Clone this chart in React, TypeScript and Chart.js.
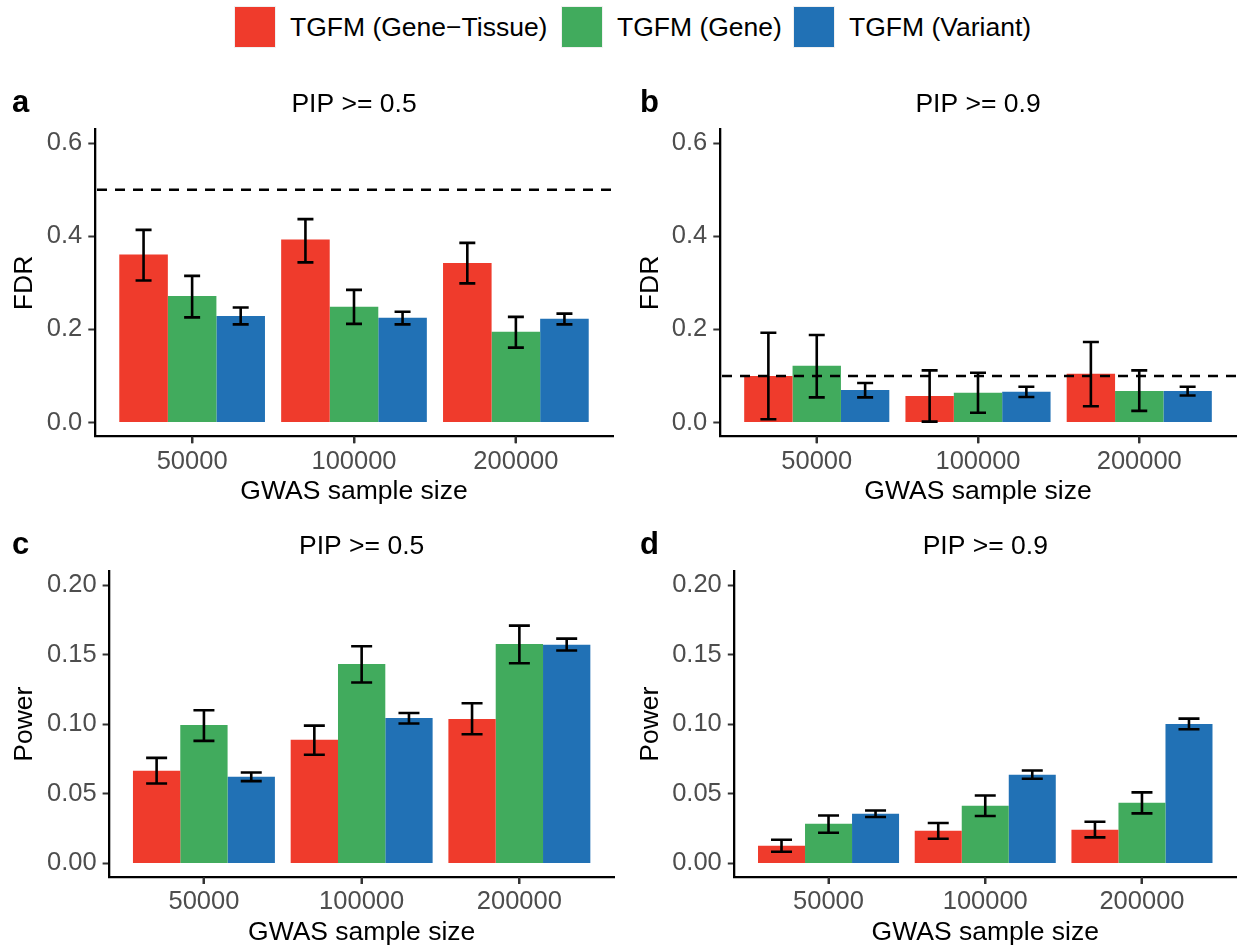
import React, { useEffect, useRef } from 'react';
import { Chart, registerables } from 'chart.js';

Chart.register(...registerables);

const FONT = "'Liberation Sans', Arial, Helvetica, sans-serif";

// ---------- shared categories / series ----------
const categories = ['50000', '100000', '200000'];
const xIndex = [1, 2, 3];
const seriesNames = ['TGFM (Gene\u2212Tissue)', 'TGFM (Gene)', 'TGFM (Variant)'];
const seriesColors = ['#EF3B2C', '#41AB5D', '#2171B5'];

// ---------- panel a: FDR, PIP >= 0.5 ----------
const fdr05GeneTissue = [0.361, 0.393, 0.343];
const fdr05GeneTissueLo = [0.305, 0.344, 0.299];
const fdr05GeneTissueHi = [0.414, 0.437, 0.386];
const fdr05Gene = [0.272, 0.249, 0.195];
const fdr05GeneLo = [0.226, 0.212, 0.161];
const fdr05GeneHi = [0.315, 0.285, 0.227];
const fdr05Variant = [0.229, 0.225, 0.223];
const fdr05VariantLo = [0.211, 0.211, 0.211];
const fdr05VariantHi = [0.247, 0.238, 0.234];

// ---------- panel b: FDR, PIP >= 0.9 ----------
const fdr09GeneTissue = [0.100, 0.057, 0.105];
const fdr09GeneTissueLo = [0.007, 0.002, 0.035];
const fdr09GeneTissueHi = [0.193, 0.112, 0.173];
const fdr09Gene = [0.122, 0.064, 0.068];
const fdr09GeneLo = [0.054, 0.021, 0.025];
const fdr09GeneHi = [0.188, 0.107, 0.112];
const fdr09Variant = [0.070, 0.066, 0.068];
const fdr09VariantLo = [0.054, 0.055, 0.058];
const fdr09VariantHi = [0.085, 0.077, 0.077];

// ---------- panel c: Power, PIP >= 0.5 ----------
const pow05GeneTissue = [0.0665, 0.0888, 0.1038];
const pow05GeneTissueLo = [0.0574, 0.078, 0.0928];
const pow05GeneTissueHi = [0.0758, 0.099, 0.115];
const pow05Gene = [0.0995, 0.1433, 0.1577];
const pow05GeneLo = [0.088, 0.130, 0.1438];
const pow05GeneHi = [0.110, 0.156, 0.1708];
const pow05Variant = [0.0622, 0.1045, 0.157];
const pow05VariantLo = [0.0591, 0.1005, 0.1529];
const pow05VariantHi = [0.0653, 0.108, 0.1615];

// ---------- panel d: Power, PIP >= 0.9 ----------
const pow09GeneTissue = [0.0127, 0.0234, 0.0242];
const pow09GeneTissueLo = [0.0084, 0.0177, 0.0187];
const pow09GeneTissueHi = [0.017, 0.029, 0.0299];
const pow09Gene = [0.0285, 0.0414, 0.0435];
const pow09GeneLo = [0.022, 0.034, 0.0359];
const pow09GeneHi = [0.0344, 0.0488, 0.051];
const pow09Variant = [0.0356, 0.0636, 0.1002];
const pow09VariantLo = [0.0333, 0.0608, 0.0964];
const pow09VariantHi = [0.038, 0.0667, 0.104];

// ---------- axis ticks / thresholds ----------
const fdrTicks = [0, 0.2, 0.4, 0.6];
const powerTicks = [0, 0.05, 0.1, 0.15, 0.2];
const fdrThreshold05 = 0.5;
const fdrThreshold09 = 0.1;

type PanelCfg = {
  left: number; top: number; width: number; height: number;
  axisLeft: number; axisRight: number; plotTop: number; plotBottom: number;
  yTitleX: number; letterX: number;
  yMin: number; yMax: number; yTicks: number[]; decimals: number;
  yTitle: string; title: string; letter: string;
  values: number[][]; lo: number[][]; hi: number[][];
  hline: number | null; cap: number;
};

const panels: PanelCfg[] = [
  {
    left: 0, top: 60, width: 620, height: 450,
    axisLeft: 95, axisRight: 613, plotTop: 129.3, plotBottom: 436.5,
    yTitleX: 25, letterX: 12,
    yMin: -0.03, yMax: 0.63, yTicks: fdrTicks, decimals: 1,
    yTitle: 'FDR', title: 'PIP >= 0.5', letter: 'a',
    values: [fdr05GeneTissue, fdr05Gene, fdr05Variant],
    lo: [fdr05GeneTissueLo, fdr05GeneLo, fdr05VariantLo],
    hi: [fdr05GeneTissueHi, fdr05GeneHi, fdr05VariantHi],
    hline: fdrThreshold05, cap: 16,
  },
  {
    left: 620, top: 60, width: 619, height: 450,
    axisLeft: 720, axisRight: 1236, plotTop: 129.3, plotBottom: 436.5,
    yTitleX: 651, letterX: 640,
    yMin: -0.03, yMax: 0.63, yTicks: fdrTicks, decimals: 1,
    yTitle: 'FDR', title: 'PIP >= 0.9', letter: 'b',
    values: [fdr09GeneTissue, fdr09Gene, fdr09Variant],
    lo: [fdr09GeneTissueLo, fdr09GeneLo, fdr09VariantLo],
    hi: [fdr09GeneTissueHi, fdr09GeneHi, fdr09VariantHi],
    hline: fdrThreshold09, cap: 16,
  },
  {
    left: 0, top: 510, width: 620, height: 437,
    axisLeft: 109.3, axisRight: 614, plotTop: 571.1, plotBottom: 877.3,
    yTitleX: 25, letterX: 12,
    yMin: -0.01, yMax: 0.21, yTicks: powerTicks, decimals: 2,
    yTitle: 'Power', title: 'PIP >= 0.5', letter: 'c',
    values: [pow05GeneTissue, pow05Gene, pow05Variant],
    lo: [pow05GeneTissueLo, pow05GeneLo, pow05VariantLo],
    hi: [pow05GeneTissueHi, pow05GeneHi, pow05VariantHi],
    hline: null, cap: 21,
  },
  {
    left: 620, top: 510, width: 619, height: 437,
    axisLeft: 734.5, axisRight: 1236, plotTop: 571.1, plotBottom: 877.3,
    yTitleX: 651, letterX: 640,
    yMin: -0.01, yMax: 0.21, yTicks: powerTicks, decimals: 2,
    yTitle: 'Power', title: 'PIP >= 0.9', letter: 'd',
    values: [pow09GeneTissue, pow09Gene, pow09Variant],
    lo: [pow09GeneTissueLo, pow09GeneLo, pow09VariantLo],
    hi: [pow09GeneTissueHi, pow09GeneHi, pow09VariantHi],
    hline: null, cap: 21,
  },
];

const TICK_SIZE = 25.5;
const TITLE_SIZE = 26.5;
const TICK_LEN = 6.7;

function Panel({ cfg }: { cfg: PanelCfg }) {
  const ref = useRef<HTMLCanvasElement | null>(null);

  useEffect(() => {
    const canvas = ref.current;
    if (!canvas) return;
    const yWidth = cfg.axisLeft - cfg.left;
    const xHeight = cfg.top + cfg.height - cfg.plotBottom;
    const yTitlePad = cfg.yTitleX - cfg.left - TITLE_SIZE / 2;
    const xTitleY = cfg.plotBottom + 55.2;
    const xTitlePad = cfg.top + cfg.height - xTitleY - TITLE_SIZE / 2;
    const xTickPad = 25.1 - TICK_LEN - TICK_SIZE / 2;

    const decor = {
      id: 'decor',
      afterDatasetsDraw(chart: any) {
        const { ctx, chartArea } = chart;
        const ys = chart.scales.y;
        ctx.save();
        ctx.strokeStyle = '#000000';
        ctx.lineWidth = 2.6;
        ctx.lineCap = 'butt';
        chart.data.datasets.forEach((_ds: any, i: number) => {
          const meta = chart.getDatasetMeta(i);
          meta.data.forEach((bar: any, j: number) => {
            const x = bar.x;
            const y1 = ys.getPixelForValue(cfg.lo[i][j]);
            const y2 = ys.getPixelForValue(cfg.hi[i][j]);
            const h = cfg.cap / 2;
            ctx.beginPath();
            ctx.moveTo(x, y1); ctx.lineTo(x, y2);
            ctx.moveTo(x - h, y1); ctx.lineTo(x + h, y1);
            ctx.moveTo(x - h, y2); ctx.lineTo(x + h, y2);
            ctx.stroke();
          });
        });
        if (cfg.hline !== null) {
          const y = ys.getPixelForValue(cfg.hline);
          ctx.setLineDash([10, 8]);
          ctx.lineWidth = 2.4;
          ctx.beginPath();
          ctx.moveTo(chartArea.left + 2, y);
          ctx.lineTo(chartArea.right, y);
          ctx.stroke();
        }
        ctx.restore();
      },
      afterDraw(chart: any) {
        const { ctx, chartArea } = chart;
        const xs = chart.scales.x;
        ctx.save();
        // category tick marks below the x axis
        ctx.strokeStyle = '#333333';
        ctx.lineWidth = 2;
        xIndex.forEach((v) => {
          const px = Math.round(xs.getPixelForValue(v));
          ctx.beginPath();
          ctx.moveTo(px, chartArea.bottom);
          ctx.lineTo(px, chartArea.bottom + TICK_LEN);
          ctx.stroke();
        });
        ctx.fillStyle = '#000000';
        ctx.textBaseline = 'alphabetic';
        ctx.textAlign = 'center';
        ctx.font = `${TITLE_SIZE}px ${FONT}`;
        ctx.fillText(cfg.title, (chartArea.left + chartArea.right) / 2, chartArea.top - 17);
        ctx.textAlign = 'left';
        ctx.font = `bold 31px ${FONT}`;
        ctx.fillText(cfg.letter, cfg.letterX - cfg.left, chartArea.top - 17);
        ctx.restore();
      },
    };

    const gridOpts = {
      display: true,
      offset: false,
      drawOnChartArea: false,
      drawTicks: true,
      tickLength: TICK_LEN,
      tickColor: '#333333',
      tickWidth: 2,
    };

    const chart = new Chart(canvas, {
      type: 'bar',
      data: {
        datasets: seriesNames.map((name, i) => ({
          label: name,
          data: xIndex.map((x, j) => ({ x, y: cfg.values[i][j] })),
          backgroundColor: seriesColors[i],
          borderWidth: 0,
          categoryPercentage: 0.9,
          barPercentage: 1.0,
        })),
      },
      options: {
        responsive: false,
        animation: false,
        devicePixelRatio: 1,
        layout: {
          padding: {
            left: 0,
            right: cfg.left + cfg.width - cfg.axisRight,
            top: cfg.plotTop - cfg.top,
            bottom: 0,
          },
        },
        plugins: {
          legend: { display: false },
          tooltip: { enabled: false },
          title: { display: false },
        },
        scales: {
          x: {
            type: 'linear',
            min: 0.4,
            max: 3.6,
            offset: false,
            afterBuildTicks: (s: any) => { s.ticks = xIndex.map((v) => ({ value: v })); },
            afterFit: (s: any) => { s.height = xHeight; },
            ticks: {
              autoSkip: false,
              maxRotation: 0,
              padding: xTickPad,
              color: '#4D4D4D',
              font: { family: FONT, size: TICK_SIZE, lineHeight: 1 },
              callback: (v: any) => {
                const k = xIndex.indexOf(Number(v));
                return k >= 0 ? categories[k] : '';
              },
            },
            grid: { ...gridOpts },
            border: { display: true, color: '#000000', width: 2.3 },
            title: {
              display: true,
              text: 'GWAS sample size',
              color: '#000000',
              font: { family: FONT, size: TITLE_SIZE, lineHeight: 1 },
              padding: { top: 0, bottom: xTitlePad },
            },
          },
          y: {
            type: 'linear',
            min: cfg.yMin,
            max: cfg.yMax,
            afterBuildTicks: (s: any) => { s.ticks = cfg.yTicks.map((v) => ({ value: v })); },
            afterFit: (s: any) => { s.width = yWidth; },
            ticks: {
              autoSkip: false,
              padding: 6,
              color: '#4D4D4D',
              font: { family: FONT, size: TICK_SIZE, lineHeight: 1 },
              callback: (v: any) => Number(v).toFixed(cfg.decimals),
            },
            grid: { ...gridOpts },
            border: { display: true, color: '#000000', width: 2.3 },
            title: {
              display: true,
              text: cfg.yTitle,
              color: '#000000',
              font: { family: FONT, size: TITLE_SIZE, lineHeight: 1 },
              padding: { top: yTitlePad, bottom: 0 },
            },
          },
        },
      } as any,
      plugins: [decor],
    });
    return () => chart.destroy();
  }, [cfg]);

  return (
    <canvas
      ref={ref}
      width={cfg.width}
      height={cfg.height}
      style={{
        position: 'absolute',
        left: cfg.left,
        top: cfg.top,
        width: cfg.width,
        height: cfg.height,
      }}
    />
  );
}

const legendSquareX = [235, 562, 794];

export default function App() {
  return (
    <div
      style={{
        position: 'absolute',
        left: 0,
        top: 0,
        width: 1239,
        height: 947,
        overflow: 'hidden',
        background: '#ffffff',
        fontFamily: FONT,
      }}
    >
      {seriesNames.map((name, i) => (
        <React.Fragment key={name}>
          <div
            style={{
              position: 'absolute',
              left: legendSquareX[i],
              top: 7,
              width: 40,
              height: 40,
              background: seriesColors[i],
              boxShadow: '0 0 0 1px #f0f0f0',
            }}
          />
          <div
            style={{
              position: 'absolute',
              left: legendSquareX[i] + 55,
              top: 7,
              height: 40,
              lineHeight: '40px',
              fontSize: TITLE_SIZE,
              color: '#000000',
              whiteSpace: 'nowrap',
            }}
          >
            {name}
          </div>
        </React.Fragment>
      ))}
      {panels.map((p) => (
        <Panel key={p.letter} cfg={p} />
      ))}
    </div>
  );
}
